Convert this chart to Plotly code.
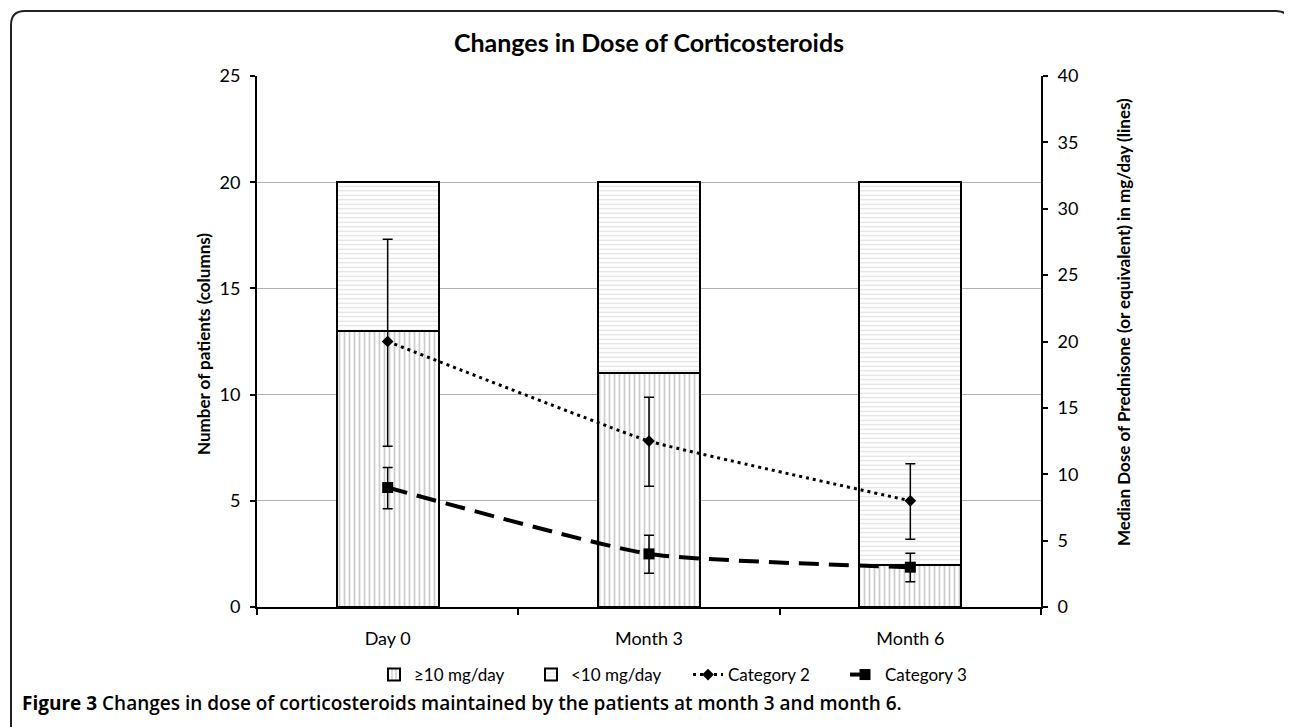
import plotly.graph_objects as go

categories = ["Day 0", "Month 3", "Month 6"]
patients_ge10 = [13, 11, 2]
patients_lt10 = [7, 9, 18]
cat2_median = [20, 12.5, 8]
cat2_err_plus = [7.7, 3.3, 2.8]
cat2_err_minus = [7.9, 3.4, 2.9]
cat3_median = [9, 4, 3]
cat3_err_plus = [1.5, 1.4, 1.05]
cat3_err_minus = [1.6, 1.45, 1.1]
left_ticks = [0, 5, 10, 15, 20, 25]
right_ticks = [0, 5, 10, 15, 20, 25, 30, 35, 40]

# page has an 8px body margin: figure occupies 8..1292 x 8..727
OFF = 8
W, H = 1292 - OFF, 727 - OFF
L, R, T, B = 257, 1041, 76, 607  # plot area in screenshot pixels
FONT = "Lato"


def px_x(x):
    return (x - L) / (R - L)


def px_y(y):
    return (B - y) / (B - T)


fig = go.Figure()
fig.add_trace(go.Bar(
    x=categories, y=patients_ge10, name="≥10 mg/day", width=0.39,
    marker=dict(color="white", line=dict(color="black", width=2),
                pattern=dict(shape="|", fgcolor="#9a9a9a", bgcolor="white", size=5, solidity=0.35)),
    yaxis="y"))
fig.add_trace(go.Bar(
    x=categories, y=patients_lt10, name="<10 mg/day", width=0.39,
    marker=dict(color="white", line=dict(color="black", width=2),
                pattern=dict(shape="-", fgcolor="#bdbdbd", bgcolor="white", size=4.5, solidity=0.25)),
    yaxis="y"))
fig.add_trace(go.Scatter(
    x=categories, y=cat2_median, name="Category 2", mode="lines+markers",
    line=dict(color="black", width=3, dash="3px,4px", shape="spline", smoothing=0.3),
    marker=dict(symbol="diamond", size=9, color="black"),
    error_y=dict(type="data", symmetric=False, array=cat2_err_plus, arrayminus=cat2_err_minus,
                 color="black", thickness=1.5, width=5),
    yaxis="y2"))
fig.add_trace(go.Scatter(
    x=categories, y=cat3_median, name="Category 3", mode="lines+markers",
    line=dict(color="black", width=4, dash="20px,10px", shape="spline", smoothing=0.5),
    marker=dict(symbol="square", size=11, color="black"),
    error_y=dict(type="data", symmetric=False, array=cat3_err_plus, arrayminus=cat3_err_minus,
                 color="black", thickness=1.5, width=5),
    yaxis="y2"))

# rounded frame
r = 14
xl, xr, yt, yb = 11, 1290, 11, 740
path = (f"M {px_x(xl)} {px_y(yb)} L {px_x(xl)} {px_y(yt + r)} "
        f"Q {px_x(xl)} {px_y(yt)} {px_x(xl + r)} {px_y(yt)} "
        f"L {px_x(xr - r)} {px_y(yt)} Q {px_x(xr)} {px_y(yt)} {px_x(xr)} {px_y(yt + r)} "
        f"L {px_x(xr)} {px_y(yb)}")

fig.update_layout(
    width=W, height=H,
    margin=dict(l=L - OFF, r=1292 - R, t=T - OFF, b=727 - B),
    paper_bgcolor="white", plot_bgcolor="white",
    barmode="stack",
    font=dict(family=FONT, color="black", size=18),
    title=dict(text="<b>Changes in Dose of Corticosteroids</b>", x=px_x(649), xref="paper",
               y=1 - (43 - OFF) / H, yref="container", xanchor="center", yanchor="middle",
               font=dict(family=FONT, size=25, color="black")),
    xaxis=dict(type="category", tickson="boundaries", ticks="outside", ticklen=6, tickwidth=2,
               tickcolor="black", showline=True, linecolor="black", linewidth=2,
               showgrid=False, tickfont=dict(size=18), ticklabelstandoff=14),
    yaxis=dict(range=[0, 25], tickvals=left_ticks, ticks="outside", ticklen=5, tickwidth=2,
               tickcolor="black", showline=True, linecolor="black", linewidth=2,
               showgrid=True, gridcolor="#b0b0b0", gridwidth=1, zeroline=False,
               tickfont=dict(size=18), ticklabelstandoff=6),
    yaxis2=dict(range=[0, 40], tickvals=right_ticks, overlaying="y", side="right",
                ticks="outside", ticklen=5, tickwidth=2, tickcolor="black",
                showline=True, linecolor="black", linewidth=2, showgrid=False, zeroline=False,
                tickfont=dict(size=18), ticklabelstandoff=6),
    legend=dict(orientation="h", x=px_x(374), xanchor="left", y=px_y(675), yanchor="middle",
                traceorder="normal", font=dict(size=17), itemwidth=30,
                entrywidth=112, entrywidthmode="pixels", bgcolor="rgba(0,0,0,0)"),
    showlegend=True,
    shapes=[dict(type="path", path=path, xref="paper", yref="paper",
                 line=dict(color="#222", width=2), layer="above")],
    annotations=[
        dict(text="<b>Number of patients (columns)</b>", textangle=-90,
             x=px_x(204), y=px_y(344), xref="paper", yref="paper",
             xanchor="center", yanchor="middle", showarrow=False, font=dict(size=17)),
        dict(text="<b>Median Dose of Prednisone (or equivalent) in mg/day (lines)</b>", textangle=-90,
             x=px_x(1123), y=px_y(322), xref="paper", yref="paper",
             xanchor="center", yanchor="middle", showarrow=False, font=dict(size=17)),
        dict(text="<b>Figure 3</b> Changes in dose of corticosteroids maintained by the patients at month 3 and month 6.",
             x=px_x(20), y=px_y(703), xref="paper", yref="paper", xanchor="left", yanchor="middle",
             showarrow=False, font=dict(family="Open Sans", size=19, color="black", weight=600)),
    ],
)

fig.write_html("out.html")
